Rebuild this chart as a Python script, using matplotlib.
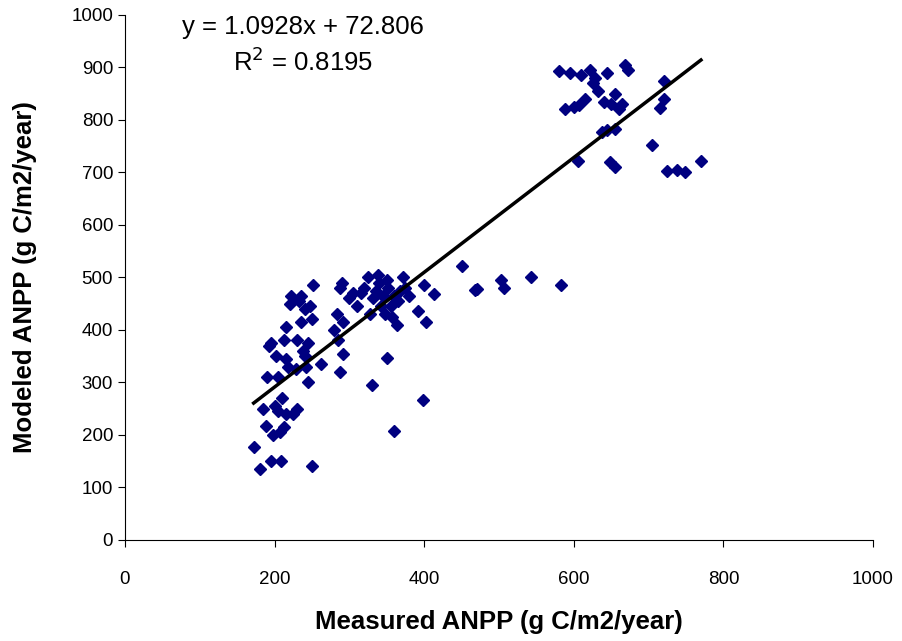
import numpy as np
import matplotlib.pyplot as plt

plt.rcParams['font.family'] = ['Liberation Sans', 'DejaVu Sans']

# measured vs modeled ANPP (g C/m2/year)
measured = [
    172, 180, 185, 188, 190, 192, 195, 195, 198, 200, 202, 205, 205, 207, 208,
    210, 212, 212, 215, 215, 215, 218, 220, 222, 225, 228, 230, 230, 232, 235,
    235, 238, 240, 240, 242, 245, 245, 248, 250, 252, 250, 262, 280, 283, 285,
    287, 288, 290, 292, 292, 300, 305, 310, 315, 320, 325, 328, 330, 332, 335,
    338, 340, 342, 345, 347, 350, 352, 355, 357, 360, 363, 365, 368, 372, 375,
    380, 350, 360, 398, 392, 403, 400, 413,
    450, 468, 470, 503, 507, 543, 583,
    580, 595, 610, 622, 628, 645, 668, 672, 588, 600, 607, 615, 625, 632, 640,
    650, 655, 660, 665, 638, 645, 655, 605, 648, 655, 705, 715, 720, 720, 725,
    738, 748, 770,
]
modeled = [
    178, 135, 250, 218, 310, 370, 375, 150, 200, 255, 350, 310, 245, 205, 150,
    270, 215, 380, 405, 345, 240, 330, 450, 465, 240, 325, 250, 380, 455, 415,
    465, 360, 440, 350, 330, 375, 300, 445, 420, 485, 140, 335, 400, 430, 380,
    480, 320, 490, 415, 355, 460, 470, 445, 470, 480, 500, 430, 295, 460, 475,
    505, 490, 445, 465, 430, 495, 480, 445, 425, 465, 410, 455, 475, 500, 480,
    465, 347, 207, 267, 437, 415, 485, 468,
    522, 477, 478, 496, 480, 500, 485,
    893, 890, 885, 895, 880, 890, 905, 895, 820, 825, 828, 840, 870, 855, 835,
    830, 850, 820, 830, 778, 780, 782, 722, 720, 710, 752, 823, 840, 875, 703,
    705, 700, 722,
]

slope = 1.0928
intercept = 72.806
fit_x = [min(measured), max(measured)]
fit_y = [slope * v + intercept for v in fit_x]

fig = plt.figure(figsize=(9.03, 6.41), dpi=100)
ax = fig.add_axes([0.1384, 0.1576, 0.8284, 0.819])

ax.plot(measured, modeled, linestyle='none', marker='D', markersize=6,
        color='#000080', markeredgecolor='#000080')
ax.plot(fit_x, fit_y, color='black', linewidth=2.5)

ax.set_xlim(0, 1000)
ax.set_ylim(0, 1000)
ax.set_xticks(np.arange(0, 1001, 200))
ax.set_yticks(np.arange(0, 1001, 100))
ax.spines['top'].set_visible(False)
ax.spines['right'].set_visible(False)
ax.tick_params(direction='out', labelsize=13.5, length=5)
ax.tick_params(axis='x', pad=17)

ax.set_xlabel('Measured ANPP (g C/m2/year)', fontsize=18.5, fontweight='bold', labelpad=16)
ax.set_ylabel('Modeled ANPP (g C/m2/year)', fontsize=18.5, fontweight='bold', labelpad=25)

# regression equation, centred above the low cluster
ax.text(238, 977, 'y = 1.0928x + 72.806', fontsize=18.5, ha='center', va='center')
ax.text(238, 910, 'R$^2$ = 0.8195', fontsize=18.5, ha='center', va='center')

fig.savefig('out.png', dpi=100)
